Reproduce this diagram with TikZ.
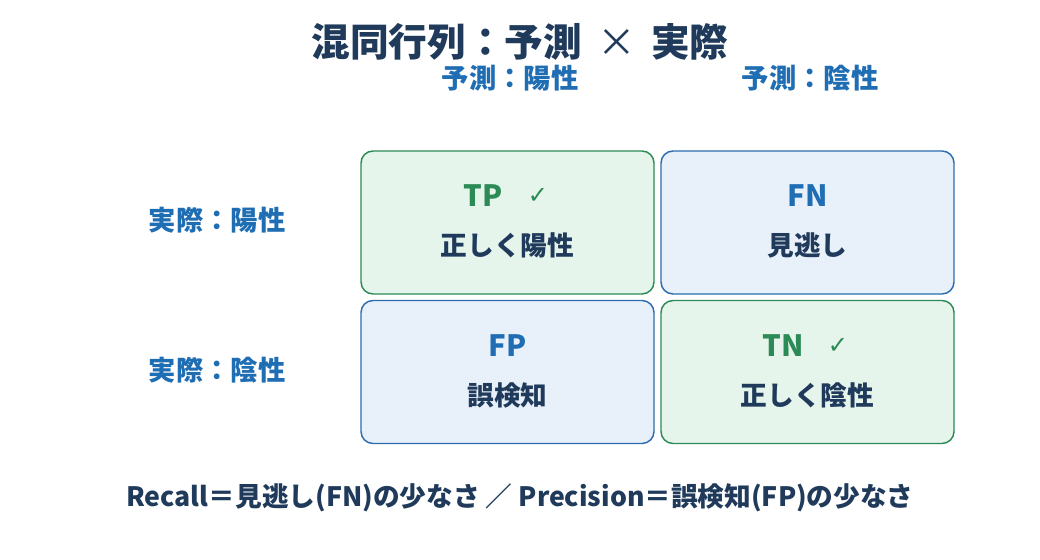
\documentclass[tikz,border=0pt]{standalone}
\usepackage{fontspec}
\setmainfont{Noto Sans CJK JP}
\newfontfamily\symfont{DejaVu Sans}
\usetikzlibrary{positioning}
\definecolor{navy}{HTML}{1F3A5A}
\definecolor{hdrblue}{HTML}{1F6DB3}
\definecolor{okgreen}{HTML}{2B8A55}
\definecolor{okfill}{HTML}{E6F5EC}
\definecolor{ngline}{HTML}{2C6DAE}
\definecolor{ngfill}{HTML}{E8F0FA}
\tikzset{
  cell/.style={rounded corners=12pt*0.75,line width=1.1pt,minimum width=293*0.75pt,minimum height=143*0.75pt},
  okcell/.style={cell,draw=okgreen,fill=okfill},
  ngcell/.style={cell,draw=ngline,fill=ngfill},
  hdr/.style={font=\bfseries\fontsize{20.5}{24}\selectfont,text=hdrblue},
  code/.style={font=\bfseries\fontsize{22}{26}\selectfont},
  desc/.style={font=\bfseries\fontsize{20}{24}\selectfont,text=navy},
  tick/.style={font=\symfont\fontsize{18}{21}\selectfont,text=okgreen}
}
\begin{document}
\begin{tikzpicture}[x=0.75pt,y=-0.75pt]
  \useasboundingbox[fill=white] (0,0) rectangle (1040,560);
  \node[font=\bfseries\fontsize{29}{34}\selectfont,text=navy] (title) at (520,42) {混同行列：予測 \,{\mdseries ×}\, 実際};
  % column / row headers
  \node[hdr] (predpos) at (510,78) {予測：陽性};
  \node[hdr] (predneg) at (810,78) {予測：陰性};
  \node[hdr] (actpos) at (217,220) {実際：陽性};
  \node[hdr] (actneg) at (217,370) {実際：陰性};
  % the four cells
  \node[okcell] (tp) at (507.5,222.5) {};
  \node[ngcell] (fn) at (807.5,222.5) {};
  \node[ngcell] (fp) at (507.5,372) {};
  \node[okcell] (tn) at (807.5,372) {};
  \node[code,text=okgreen] (tpcode) at (483,196) {TP};
  \node[tick] (tptick) at (538,196) {✓};
  \node[desc] (tpdesc) at (507.5,245) {正しく陽性};
  \node[code,text=hdrblue] (fncode) at (807.5,196) {FN};
  \node[desc] (fndesc) at (807.5,245) {見逃し};
  \node[code,text=hdrblue] (fpcode) at (507.5,346) {FP};
  \node[desc] (fpdesc) at (507.5,395) {誤検知};
  \node[code,text=okgreen] (tncode) at (783,346) {TN};
  \node[tick] (tntick) at (838,346) {✓};
  \node[desc] (tndesc) at (807.5,395) {正しく陰性};
  \node[font=\bfseries\fontsize{20}{24}\selectfont,text=navy] (note) at (520,498)
    {Recall＝見逃し(FN)の少なさ ／ Precision＝誤検知(FP)の少なさ};
\end{tikzpicture}
\end{document}
